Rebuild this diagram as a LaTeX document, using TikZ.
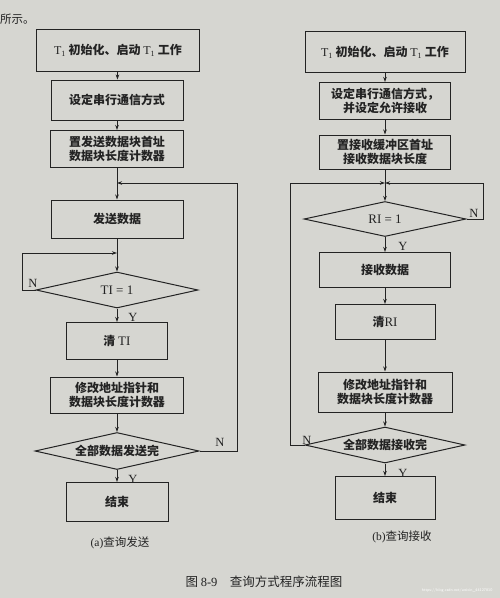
\documentclass[tikz,border=0pt]{standalone}
\usepackage{fontspec}
\setmainfont{Liberation Serif}
\newfontfamily\cjk{Noto Sans CJK SC}
\usetikzlibrary{shapes.geometric,arrows.meta}
\definecolor{paper}{RGB}{214,214,209}
\definecolor{ink}{RGB}{35,35,35}
\newcommand{\Tone}{{\rmfamily\mdseries T\textsubscript{1}}}
\begin{document}
\begin{tikzpicture}[x=1pt,y=-1pt,
  every node/.style={text=ink},
  box/.style={draw=ink,line width=1pt,rectangle,inner sep=0pt,align=center,font=\cjk\bfseries\fontsize{12}{14}\selectfont},
  dia/.style={draw=ink,line width=1pt,diamond,aspect=4.5,inner sep=0pt,align=center,font=\cjk\bfseries\fontsize{12}{14}\selectfont},
  arr/.style={draw=ink,line width=0.9pt,-{Stealth[length=5pt,width=3.5pt]}},
  lbl/.style={font=\rmfamily\fontsize{12.5}{14}\selectfont,inner sep=0pt},
  captext/.style={font=\cjk\fontsize{11.5}{14}\selectfont,inner sep=0pt}]
\fill[paper] (0,0) rectangle (500,598);
\useasboundingbox (0,0) rectangle (500,598);
\node[captext,anchor=west] (top) at (0,19) {所示。};
% ---------- left: (a) ----------
\node[box,minimum width=163,minimum height=42] (b1) at (118,50) {\Tone{} 初始化、启动 \Tone{} 工作};
\node[box,minimum width=132,minimum height=40] (b2) at (117,100) {设定串行通信方式};
\node[box,minimum width=133,minimum height=37] (b3) at (117,149) {置发送数据块首址\\数据块长度计数器};
\node[box,minimum width=132,minimum height=38] (b4) at (117,219) {发送数据};
\node[dia,minimum width=162,minimum height=36] (d1) at (117,290) {\rmfamily\mdseries\fontsize{13}{14}\selectfont TI = 1};
\node[box,minimum width=101,minimum height=37] (b5) at (117,341) {清 {\rmfamily\mdseries\fontsize{13}{14}\selectfont TI}};
\node[box,minimum width=133,minimum height=36] (b6) at (117,395) {修改地址指针和\\数据块长度计数器};
\node[dia,minimum width=164,minimum height=37] (d2) at (117,451) {全部数据发送完};
\node[box,minimum width=102,minimum height=39] (b7) at (117,502) {结束};
\node[captext] (capa) at (120,543) {{\rmfamily(a)}查询发送};
\coordinate (mL) at (117,183);
\coordinate (nL) at (117,253);
\draw[arr] (b1) -- (b2);
\draw[arr] (b2) -- (b3);
\draw[arr] (b3) -- (b4);
\draw[arr] (b4) -- (d1);
\draw[arr] (d1.west) -- (22,290) |- (nL);
\draw[arr] (d1) -- (b5);
\draw[arr] (b5) -- (b6);
\draw[arr] (b6) -- (d2);
\draw[arr] (d2) -- (b7);
\draw[arr] (d2.east) -- (237,451) |- (mL);
\node[lbl] (nl1) at (33,283) {N};
\node[lbl] (yl1) at (133,317) {Y};
\node[lbl] (nl2) at (220,442) {N};
\node[lbl] (yl2) at (133,479) {Y};
% ---------- right: (b) ----------
\node[box,minimum width=160,minimum height=41] (c1) at (385,52) {\Tone{} 初始化、启动 \Tone{} 工作};
\node[box,minimum width=131,minimum height=37] (c2) at (385,101) {设定串行通信方式，\\并设定允许接收};
\node[box,minimum width=131,minimum height=34] (c3) at (385,152) {置接收缓冲区首址\\接收数据块长度};
\node[dia,minimum width=162,minimum height=35] (e1) at (385,219) {\rmfamily\mdseries\fontsize{13}{14}\selectfont RI = 1};
\node[box,minimum width=131,minimum height=35] (c4) at (385,270) {接收数据};
\node[box,minimum width=100,minimum height=35] (c5) at (385,322) {清{\rmfamily\mdseries\fontsize{13}{14}\selectfont RI}};
\node[box,minimum width=134,minimum height=40] (c6) at (385,392) {修改地址指针和\\数据块长度计数器};
\node[dia,minimum width=160,minimum height=36] (e2) at (385,445) {全部数据接收完};
\node[box,minimum width=100,minimum height=43] (c7) at (385,498) {结束};
\node[captext] (capb) at (402,537) {{\rmfamily(b)}查询接收};
\coordinate (mR) at (385,183);
\draw[arr] (c1) -- (c2);
\draw[arr] (c2) -- (c3);
\draw[arr] (c3) -- (e1);
\draw[arr] (e1.east) -- (483,219) |- (mR);
\draw[arr] (e2.west) -- (290,445) |- (mR);
\draw[arr] (e1) -- (c4);
\draw[arr] (c4) -- (c5);
\draw[arr] (c5) -- (c6);
\draw[arr] (c6) -- (e2);
\draw[arr] (e2) -- (c7);
\node[lbl] (nr1) at (474,213) {N};
\node[lbl] (yr1) at (403,246) {Y};
\node[lbl] (nr2) at (307,440) {N};
\node[lbl] (yr2) at (403,473) {Y};
% ---------- figure caption ----------
\node[captext,font=\cjk\fontsize{12.5}{15}\selectfont] (fig) at (264,582) {图 {\rmfamily 8-9}\quad 查询方式程序流程图};
\node[font=\sffamily\fontsize{4}{5}\selectfont,text=white,anchor=east] (wm) at (496,590) {https://blog.csdn.net/weixin\_44127810};
\end{tikzpicture}
\end{document}
